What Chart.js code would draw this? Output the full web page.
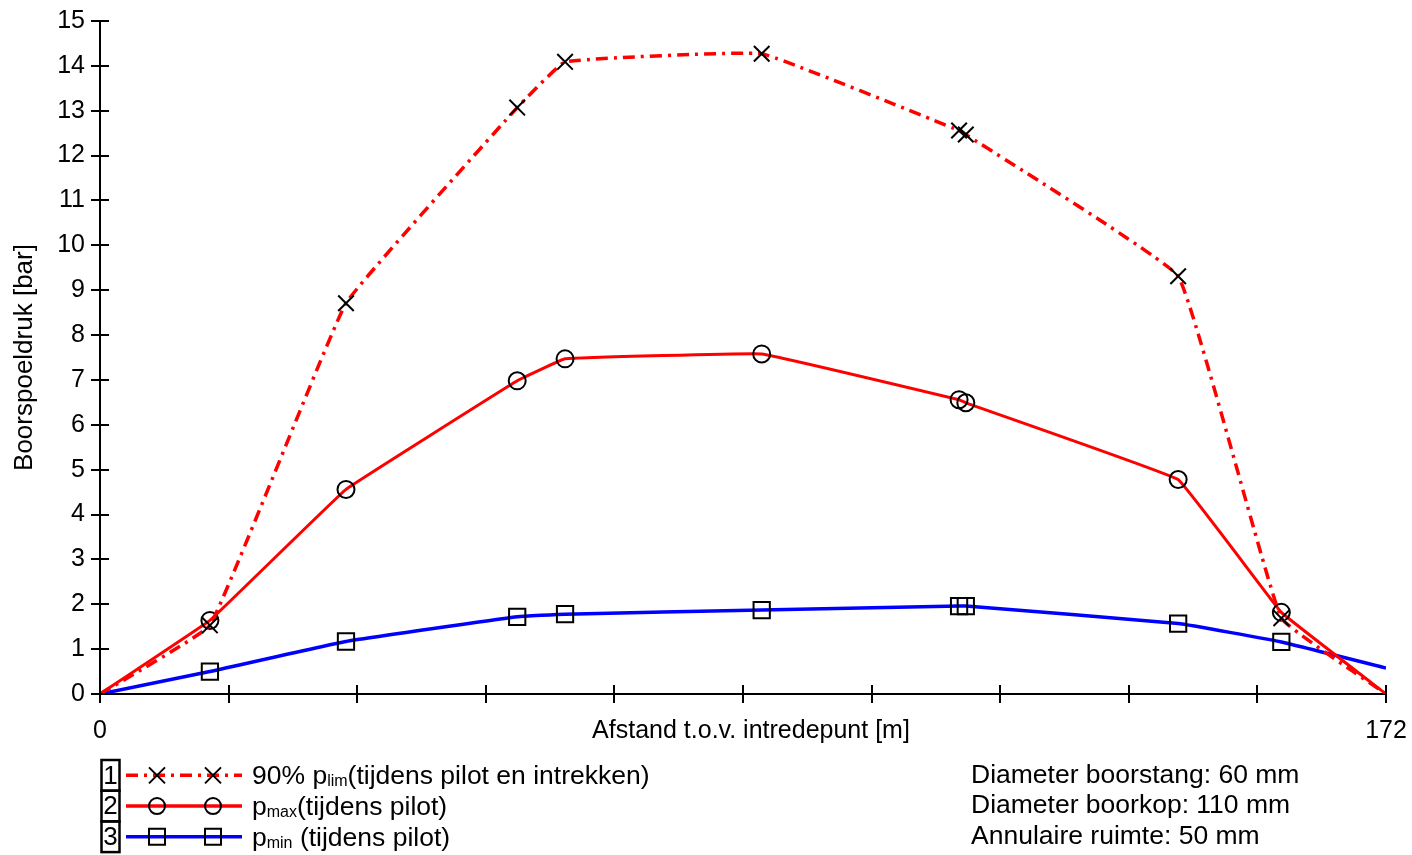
<!DOCTYPE html>
<html>
<head>
<meta charset="utf-8">
<script src="https://cdn.jsdelivr.net/npm/chart.js@4"></script>
<style>
  html, body { margin: 0; padding: 0; background: #fff; }
  #wrap { width: 1412px; height: 855px; }
</style>
</head>
<body>
<div id="wrap"><canvas id="drukChart" width="1412" height="855"></canvas></div>
<script>
// afstand t.o.v. intredepunt [m]
const distance = [0, 14.7, 32.9, 55.8, 62.2, 88.5, 114.9, 115.8, 144.2, 158.0, 172];
// boorspoeldruk [bar]
const pLim90 = [0, 1.53, 8.71, 13.07, 14.09, 14.27, 12.56, 12.47, 9.31, 1.69, 0];
const pMax = [0, 1.64, 4.56, 6.98, 7.47, 7.58, 6.56, 6.49, 4.78, 1.82, 0];
const pMin = [0, 0.5, 1.17, 1.72, 1.78, 1.87, 1.96, 1.96, 1.57, 1.16, 0.58];

const xTickValues = [0, 17.2, 34.4, 51.6, 68.8, 86, 103.2, 120.4, 137.6, 154.8, 172];
const xTickLabels = { 0: "0", 172: "172" };

const legendItems = [
  { nr: "1", color: "rgb(255,0,0)", dash: [12, 6, 3, 6], marker: "cross", pre: "90% p", sub: "lim", post: "(tijdens pilot en intrekken)" },
  { nr: "2", color: "rgb(255,0,0)", dash: [], marker: "circle", pre: "p", sub: "max", post: "(tijdens pilot)" },
  { nr: "3", color: "rgb(0,0,255)", dash: [], marker: "rect", pre: "p", sub: "min", post: " (tijdens pilot)" }
];
const infoLines = ["Diameter boorstang: 60 mm", "Diameter boorkop: 110 mm", "Annulaire ruimte: 50 mm"];

const FONT = "Liberation Sans, Arial, Helvetica, sans-serif";

function toPoints(ys) {
  return ys.map((y, i) => ({ x: distance[i], y: y }));
}
// geen markers op begin- en eindpunt
function markerRadius(r) {
  return (ctx) => (ctx.dataIndex === 0 || ctx.dataIndex === distance.length - 1) ? 0 : r;
}

function drawMarker(ctx, type, x, y) {
  ctx.save();
  ctx.strokeStyle = "#000";
  ctx.lineWidth = 2;
  ctx.beginPath();
  if (type === "cross") {
    ctx.moveTo(x - 8, y - 8); ctx.lineTo(x + 8, y + 8);
    ctx.moveTo(x + 8, y - 8); ctx.lineTo(x - 8, y + 8);
  } else if (type === "circle") {
    ctx.arc(x, y, 8, 0, Math.PI * 2);
  } else {
    ctx.rect(x - 8, y - 8, 16, 16);
  }
  ctx.stroke();
  ctx.restore();
}

const extrasPlugin = {
  id: "extras",
  afterDraw(chart) {
    const ctx = chart.ctx;
    const area = chart.chartArea;
    const xs = chart.scales.x, ys = chart.scales.y;

    // tick marks inside the plot area (other half is drawn by Chart.js)
    ctx.save();
    ctx.strokeStyle = "#000";
    ctx.lineWidth = 2;
    ctx.beginPath();
    xs.ticks.forEach(t => {
      const px = Math.round(xs.getPixelForValue(t.value));
      ctx.moveTo(px, area.bottom);
      ctx.lineTo(px, area.bottom - 9);
    });
    ys.ticks.forEach(t => {
      const py = Math.round(ys.getPixelForValue(t.value));
      ctx.moveTo(area.left, py);
      ctx.lineTo(area.left + 9, py);
    });
    ctx.stroke();

    // x-as titel op de hoogte van de tick labels
    ctx.fillStyle = "#000";
    ctx.font = "25px " + FONT;
    ctx.textAlign = "center";
    ctx.textBaseline = "middle";
    ctx.fillText("Afstand t.o.v. intredepunt [m]", (area.left + area.right) / 2 + 8, area.bottom + 37);

    // legenda
    const rowH = 30.7;
    const top = area.bottom + 66;
    legendItems.forEach((item, i) => {
      const y0 = top + i * rowH;
      const cy = y0 + rowH / 2;
      ctx.strokeStyle = "#000";
      ctx.lineWidth = 2.5;
      ctx.strokeRect(101.5, y0, 18, rowH);
      ctx.fillStyle = "#000";
      ctx.font = "26px " + FONT;
      ctx.textAlign = "center";
      ctx.textBaseline = "middle";
      ctx.fillText(item.nr, 110.5, cy + 1);

      ctx.save();
      ctx.strokeStyle = item.color;
      ctx.lineWidth = 3.5;
      ctx.setLineDash(item.dash);
      ctx.beginPath();
      ctx.moveTo(126, cy);
      ctx.lineTo(242, cy);
      ctx.stroke();
      ctx.restore();
      drawMarker(ctx, item.marker, 157, cy);
      drawMarker(ctx, item.marker, 213, cy);

      ctx.textAlign = "left";
      ctx.textBaseline = "alphabetic";
      let tx = 252;
      const base = cy + 9;
      ctx.font = "26.5px " + FONT;
      ctx.fillText(item.pre, tx, base);
      tx += ctx.measureText(item.pre).width;
      ctx.font = "16px " + FONT;
      ctx.fillText(item.sub, tx, base + 2);
      tx += ctx.measureText(item.sub).width;
      ctx.font = "26.5px " + FONT;
      ctx.fillText(item.post, tx, base);
    });

    // info rechtsonder
    ctx.font = "26.5px " + FONT;
    ctx.textAlign = "left";
    ctx.textBaseline = "middle";
    infoLines.forEach((line, i) => {
      ctx.fillText(line, 971, top + i * rowH + rowH / 2);
    });
    ctx.restore();
  }
};

new Chart(document.getElementById("drukChart"), {
  type: "line",
  data: {
    datasets: [
      {
        label: "90% plim (tijdens pilot en intrekken)",
        data: toPoints(pLim90),
        borderColor: "rgb(255,0,0)",
        borderWidth: 3.5,
        borderDash: [12, 6, 3, 6],
        pointStyle: "crossRot",
        pointRadius: markerRadius(11),
        pointBorderColor: "#000",
        pointBorderWidth: 2,
        tension: 0.08
      },
      {
        label: "pmax (tijdens pilot)",
        data: toPoints(pMax),
        borderColor: "rgb(255,0,0)",
        borderWidth: 3,
        pointStyle: "circle",
        pointRadius: markerRadius(8.5),
        pointBorderColor: "#000",
        pointBackgroundColor: "rgba(0,0,0,0)",
        pointBorderWidth: 2,
        tension: 0.05
      },
      {
        label: "pmin (tijdens pilot)",
        data: toPoints(pMin),
        borderColor: "rgb(0,0,255)",
        borderWidth: 3.5,
        pointStyle: "rect",
        pointRadius: markerRadius(11.5),
        pointBorderColor: "#000",
        pointBackgroundColor: "rgba(0,0,0,0)",
        pointBorderWidth: 2,
        tension: 0.1
      }
    ]
  },
  options: {
    responsive: false,
    animation: false,
    layout: {
      padding: { top: 19, right: 26, left: 0, bottom: 0 }
    },
    plugins: {
      legend: { display: false },
      tooltip: { enabled: false }
    },
    scales: {
      x: {
        type: "linear",
        min: 0,
        max: 172,
        afterBuildTicks: (scale) => {
          scale.ticks = xTickValues.map(v => ({ value: v }));
        },
        afterFit: (scale) => {
          scale.height = 161;
          scale.paddingLeft = 0;
          scale.paddingRight = 0;
        },
        ticks: {
          color: "#000",
          font: { size: 25, family: FONT },
          padding: 13,
          maxRotation: 0,
          autoSkip: false,
          callback: (v) => xTickLabels[v] !== undefined ? xTickLabels[v] : ""
        },
        grid: {
          drawOnChartArea: false,
          color: "#000",
          lineWidth: 2,
          tickLength: 9
        },
        border: { color: "#000", width: 2 }
      },
      y: {
        min: 0,
        max: 15,
        afterFit: (scale) => { scale.width = 100; },
        ticks: {
          stepSize: 1,
          color: "#000",
          font: { size: 25, family: FONT },
          padding: 6
        },
        grid: {
          drawOnChartArea: false,
          color: "#000",
          lineWidth: 2,
          tickLength: 9
        },
        border: { color: "#000", width: 2 },
        title: {
          display: true,
          text: "Boorspoeldruk [bar]",
          color: "#000",
          font: { size: 26, family: FONT },
          padding: { top: 9, bottom: 0 }
        }
      }
    }
  },
  plugins: [extrasPlugin]
});
</script>
</body>
</html>
